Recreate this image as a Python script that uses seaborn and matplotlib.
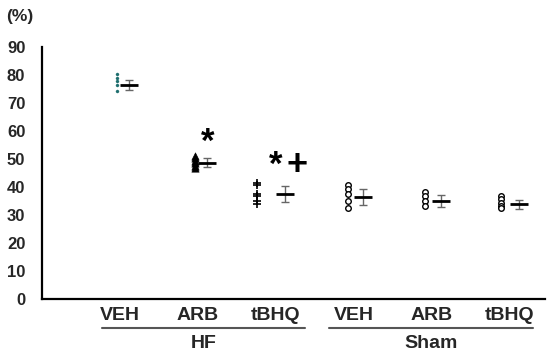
import matplotlib
matplotlib.use('Agg')
import matplotlib.pyplot as plt
import matplotlib.transforms as mtransforms
import seaborn as sns
import numpy as np

# Categories and groups
categories = ['VEH', 'ARB', 'tBHQ', 'VEH', 'ARB', 'tBHQ']
groups = ['HF', 'Sham']

# Individual values (%)
hf_veh = [80.4, 79.0, 77.9, 76.4, 74.3]
hf_arb = [51.2, 50.2, 49.3, 48.4, 47.6, 46.9]
hf_tbhq = [41.4, 40.5, 37.6, 36.7, 34.9, 34.0]
sham_veh = [40.7, 39.3, 37.5, 35.0, 32.5]
sham_arb = [38.2, 36.8, 35.0, 33.2]
sham_tbhq = [36.6, 35.5, 34.4, 33.3, 32.3]

# Means and error (%)
means = [76.5, 48.7, 37.4, 36.4, 35.0, 33.8]
errors = [1.8, 1.6, 2.9, 2.8, 2.1, 1.6]

# Significance marks
marks = [('*', 2.12, 56.0), ('*', 3.0, 47.6), ('+', 3.27, 47.6)]

values = [hf_veh, hf_arb, hf_tbhq, sham_veh, sham_arb, sham_tbhq]
styles = [
    dict(marker='o', s=5, color='#1f6f6f', edgecolor='#1f6f6f', linewidth=0.2),
    dict(marker='^', s=28, color='black', edgecolor='black'),
    dict(marker='+', s=40, color='black', linewidth=1.2),
    dict(marker='o', s=16, facecolor='white', edgecolor='black', linewidth=1.0),
    dict(marker='o', s=16, facecolor='white', edgecolor='black', linewidth=1.0),
    dict(marker='o', s=16, facecolor='white', edgecolor='black', linewidth=1.0),
]
pt_shift = [-0.04, -0.04, -0.24, -0.08, -0.09, -0.12]
mean_shift = 0.12

sns.set_style('white')
plt.rcParams['font.family'] = ['Liberation Sans', 'DejaVu Sans']

fig = plt.figure(figsize=(5.5, 3.55), dpi=100)
ax = fig.add_axes([0.0764, 0.158, 0.9146, 0.710])

pos = np.arange(1, len(categories) + 1)
for i, (vals, st) in enumerate(zip(values, styles)):
    sns.scatterplot(x=[pos[i] + pt_shift[i]] * len(vals), y=vals, ax=ax,
                    legend=False, zorder=3, **st)

ax.errorbar(pos + mean_shift, means, yerr=errors, fmt='none', ecolor='#666666',
            elinewidth=1.0, capsize=3, capthick=1.0, zorder=2)
ax.scatter(pos + mean_shift, means, marker='_', s=150, color='black',
           linewidths=2.0, zorder=4)

for txt, x, y in marks:
    ax.text(x, y, txt, ha='center', va='center', fontsize=26 if txt == '+' else 25,
            fontweight='bold', color='black')

ax.set_xlim(0, 6.45)
ax.set_ylim(0, 90)
ax.set_yticks(range(0, 91, 10))
ax.set_xticks(pos)
ax.set_xticklabels(categories, fontsize=14, fontweight='bold')
for lab in ax.get_yticklabels():
    lab.set_fontweight('bold')
    lab.set_fontsize(12)
ax.tick_params(axis='both', length=0)
ax.tick_params(axis='x', pad=6)
ax.tick_params(axis='y', pad=12)

sns.despine(ax=ax)
for side in ['left', 'bottom']:
    ax.spines[side].set_color('black')
    ax.spines[side].set_linewidth(1.6)

# group underline and labels
trans = mtransforms.blended_transform_factory(ax.transData, ax.transAxes)
for g, (x0, x1) in zip(groups, [(0.77, 3.37), (3.68, 6.29)]):
    ax.plot([x0, x1], [-0.115, -0.115], color='#555555', lw=1.5,
            transform=trans, clip_on=False)
    ax.text((x0 + x1) / 2, -0.175, g, ha='center', va='center', fontsize=14,
            fontweight='bold', transform=trans)

fig.text(20 / 550, 1 - 17 / 355, '(%)', ha='center', va='center', fontsize=12.5,
         fontweight='bold')

fig.savefig('out.png', dpi=100)
